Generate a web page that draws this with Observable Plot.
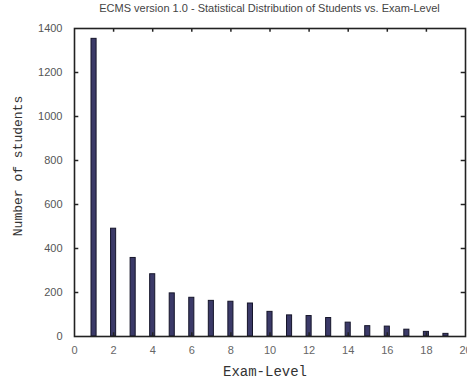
<!DOCTYPE html>
<html>
<head>
<meta charset="utf-8">
<script src="https://cdn.jsdelivr.net/npm/d3@7"></script>
<script src="https://cdn.jsdelivr.net/npm/@observablehq/plot@0.6"></script>
<style>
  body { margin: 0; background: #fff; }
  #wrap { position: relative; width: 467px; height: 381px; }
  #title { position: absolute; top: 2px; left: 74px; width: 391px; text-align: center;
    font: 11px "Liberation Sans", Arial, sans-serif; color: #444; }
  #ylab { position: absolute; left: 18px; top: 166px; transform: translate(-50%, -50%) rotate(-90deg);
    font: 13px "Liberation Mono", "DejaVu Sans Mono", monospace; color: #333; white-space: nowrap; }
  #xlab { position: absolute; left: 265px; top: 372px; transform: translate(-50%, -50%);
    font: 14px "Liberation Mono", "DejaVu Sans Mono", monospace; color: #333; white-space: nowrap; }
</style>
</head>
<body>
<div id="wrap">
  <div id="chart"></div>
  <div id="title">ECMS version 1.0 - Statistical Distribution of Students vs. Exam-Level</div>
  <div id="ylab">Number of students</div>
  <div id="xlab">Exam-Level</div>
</div>
<script>
const levels = [1,2,3,4,5,6,7,8,9,10,11,12,13,14,15,16,17,18,19];
const counts = [1353,490,357,283,196,176,162,158,150,112,96,93,84,63,47,45,31,21,12];
const xTicks = [0,2,4,6,8,10,12,14,16,18,20];
const yTicks = [0,200,400,600,800,1000,1200,1400];

const data = levels.map((l, i) => ({level: l, count: counts[i]}));
const halfW = 0.13;

const chart = Plot.plot({
  width: 467,
  height: 381,
  marginLeft: 74,
  marginRight: 2,
  marginTop: 28,
  marginBottom: 45,
  style: {fontFamily: "'Liberation Sans', Arial, sans-serif", fontSize: "11px", color: "#555", background: "#fff"},
  x: {type: "linear", domain: [0, 20]},
  y: {type: "linear", domain: [0, 1400]},
  marks: [
    Plot.rectY(data, {x1: d => d.level - halfW, x2: d => d.level + halfW, y1: 0, y2: "count",
      fill: "#3b3a68", stroke: "#15152a", strokeWidth: 1}),
    Plot.axisX({anchor: "bottom", ticks: xTicks, tickSize: 0, tickPadding: 10, label: null, fill: "#666", tickFormat: d => String(d)}),
    Plot.axisY({anchor: "left", ticks: yTicks, tickSize: 0, tickPadding: 12, label: null, fill: "#555", tickFormat: d => String(d)}),
    Plot.ruleX(xTicks.slice(1, -1), {x: d => d, y1: 1400, y2: 1383, stroke: "#222", strokeWidth: 1.5}),
    Plot.ruleX(xTicks.slice(1, -1), {x: d => d, y1: 0, y2: 17, stroke: "#222", strokeWidth: 1.5}),
    Plot.ruleY(yTicks.slice(1, -1), {y: d => d, x1: 0, x2: 0.22, stroke: "#222", strokeWidth: 1.5}),
    Plot.ruleY(yTicks.slice(1, -1), {y: d => d, x1: 19.78, x2: 20, stroke: "#222", strokeWidth: 1.5}),
    Plot.frame({stroke: "#222", strokeWidth: 1.6})
  ]
});
document.getElementById("chart").appendChild(chart);
</script>
</body>
</html>
